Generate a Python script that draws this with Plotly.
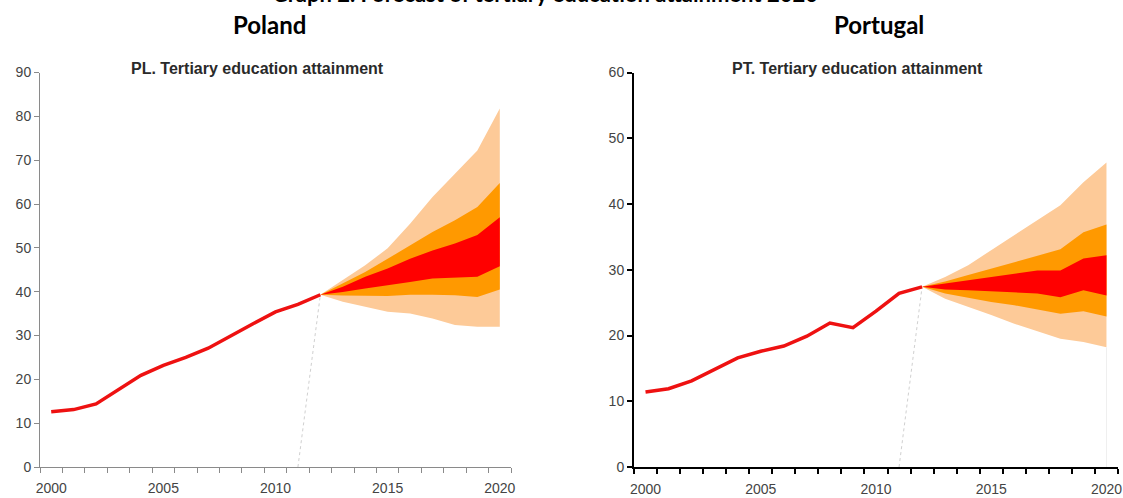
import plotly.graph_objects as go

# ---------------- data ----------------
hist_years = list(range(2000, 2013))
fc_years = list(range(2012, 2021))

pl_hist = [12.6, 13.1, 14.4, 17.7, 20.9, 23.2, 25.0, 27.1, 30.0, 32.7, 35.4, 37.1, 39.3]
pl_light_hi = [39.3, 42.6, 46.0, 49.9, 55.5, 61.6, 66.9, 72.2, 81.8]
pl_orange_hi = [39.3, 41.9, 44.5, 47.5, 50.6, 53.6, 56.3, 59.3, 64.8]
pl_red_hi = [39.3, 41.1, 43.4, 45.3, 47.5, 49.4, 51.0, 52.9, 57.0]
pl_red_lo = [39.3, 39.9, 40.7, 41.5, 42.2, 43.0, 43.2, 43.4, 45.8]
pl_orange_lo = [39.3, 39.1, 39.0, 39.0, 39.3, 39.3, 39.2, 38.8, 40.5]
pl_light_lo = [39.3, 37.7, 36.5, 35.4, 35.0, 33.9, 32.4, 32.0, 32.0]

pt_hist = [11.4, 11.9, 13.1, 14.9, 16.6, 17.6, 18.4, 19.9, 21.9, 21.2, 23.7, 26.4, 27.4]
pt_light_hi = [27.4, 28.9, 30.7, 33.0, 35.2, 37.5, 39.8, 43.3, 46.3]
pt_orange_hi = [27.4, 28.2, 29.2, 30.2, 31.2, 32.2, 33.1, 35.7, 36.9]
pt_red_hi = [27.4, 27.9, 28.5, 28.9, 29.4, 29.9, 29.9, 31.7, 32.2]
pt_red_lo = [27.4, 27.0, 26.9, 26.8, 26.6, 26.4, 25.8, 26.9, 26.1]
pt_orange_lo = [27.4, 26.4, 25.8, 25.1, 24.6, 24.0, 23.3, 23.7, 22.9]
pt_light_lo = [27.4, 25.6, 24.4, 23.1, 21.8, 20.6, 19.5, 19.0, 18.2]

x_ticks = [2000, 2005, 2010, 2015, 2020]
pl_y_ticks = [0, 10, 20, 30, 40, 50, 60, 70, 80, 90]
pt_y_ticks = [0, 10, 20, 30, 40, 50, 60]

main_title = "Graph 2. Forecast of tertiary education attainment 2020"
countries = ["Poland", "Portugal"]
panel_titles = ["PL. Tertiary education attainment", "PT. Tertiary education attainment"]

# ---------------- style ----------------
W, H = 1123, 498
LIGHT = "#FDCA98"
ORANGE = "#FF9900"
RED = "#FF0000"
LINE_RED = "#EE1111"

fig = go.Figure()


def add_panel(xa, ya, hist, bands, last_bottom_line):
    for hi, lo, col in bands:
        fig.add_trace(go.Scatter(
            x=fc_years + fc_years[::-1], y=hi + lo[::-1],
            fill="toself", fillcolor=col, mode="lines",
            line=dict(width=0, color=col), xaxis=xa, yaxis=ya,
            hoverinfo="skip", showlegend=False))
    # dotted guide from axis to last observation
    fig.add_trace(go.Scatter(
        x=[hist_years[-2], hist_years[-1]], y=[0, hist[-1]], mode="lines",
        line=dict(color="#D0D0D0", width=1, dash="dot"),
        xaxis=xa, yaxis=ya, hoverinfo="skip", showlegend=False))
    if last_bottom_line is not None:
        fig.add_trace(go.Scatter(
            x=[fc_years[-1], fc_years[-1]], y=[0, last_bottom_line], mode="lines",
            line=dict(color="#EFEFEF", width=1),
            xaxis=xa, yaxis=ya, hoverinfo="skip", showlegend=False))
    fig.add_trace(go.Scatter(
        x=hist_years, y=hist, mode="lines",
        line=dict(color=LINE_RED, width=3.5),
        xaxis=xa, yaxis=ya, showlegend=False))


add_panel("x", "y", pl_hist, [
    (pl_light_hi, pl_light_lo, LIGHT),
    (pl_orange_hi, pl_orange_lo, ORANGE),
    (pl_red_hi, pl_red_lo, RED)], None)
add_panel("x2", "y2", pt_hist, [
    (pt_light_hi, pt_light_lo, LIGHT),
    (pt_orange_hi, pt_orange_lo, ORANGE),
    (pt_red_hi, pt_red_lo, RED)], pt_light_lo[-1])

tickfont = dict(family="Liberation Sans, Arial, sans-serif", size=14, color="#444444")
y_dom = [(498 - 467) / H, (498 - 72.5) / H]


def xaxis(dom, col, lw):
    return dict(domain=dom, range=[1999.5, 2020.5], tickvals=x_ticks,
                ticktext=[str(t) for t in x_ticks],
                ticks="outside", ticklen=5, tickcolor="rgba(0,0,0,0)",
                showline=True, linecolor=col, linewidth=lw,
                showgrid=False, zeroline=False, tickfont=tickfont,
                ticklabelstandoff=3, automargin=False,
                minor=dict(tickmode="linear", tick0=1999.5, dtick=1,
                           ticks="outside", ticklen=5, tickcolor=col,
                           tickwidth=lw, showgrid=False),
                fixedrange=True)


def yaxis(dom, rng, tv, col, lw, anchor):
    return dict(domain=dom, range=rng, tickvals=tv, anchor=anchor,
                ticks="outside", ticklen=5, tickcolor=col, tickwidth=lw,
                showline=True, linecolor=col, linewidth=lw,
                showgrid=False, zeroline=False, tickfont=tickfont,
                automargin=False, fixedrange=True)


fig.update_layout(
    width=W, height=H,
    margin=dict(l=0, r=0, t=0, b=0, pad=0, autoexpand=False),
    paper_bgcolor="white", plot_bgcolor="white",
    xaxis=xaxis([40 / W, 511 / W], "#8A8A8A", 1) | dict(anchor="y"),
    yaxis=yaxis(y_dom, [0, 90], pl_y_ticks, "#8A8A8A", 1, "x"),
    xaxis2=xaxis([634 / W, 1118 / W], "#000000", 2) | dict(anchor="y2"),
    yaxis2=yaxis(y_dom, [0, 60], pt_y_ticks, "#000000", 2, "x2"),
    showlegend=False,
)

annos = [
    dict(text="<b>" + main_title + "</b>", x=545 / W, y=1 + 7 / H,
         font=dict(family="Lato, sans-serif", size=22, color="#000000")),
    dict(text="<b>" + countries[0] + "</b>", x=269 / W, y=(498 - 24) / H,
         font=dict(family="Lato, sans-serif", size=24, color="#000000")),
    dict(text="<b>" + countries[1] + "</b>", x=879 / W, y=(498 - 24) / H,
         font=dict(family="Lato, sans-serif", size=24, color="#000000")),
    dict(text="<b>" + panel_titles[0] + "</b>", x=257 / W, y=(498 - 68) / H,
         font=dict(family="Liberation Sans, Arial, sans-serif", size=16, color="#2A2A2A")),
    dict(text="<b>" + panel_titles[1] + "</b>", x=857 / W, y=(498 - 68) / H,
         font=dict(family="Liberation Sans, Arial, sans-serif", size=16, color="#2A2A2A")),
]
for a in annos:
    fig.add_annotation(xref="paper", yref="paper", showarrow=False,
                       xanchor="center", yanchor="middle", **a)

fig.write_html("out.html", config={"displayModeBar": False},
               post_script="document.body.style.margin='0';document.body.style.overflow='hidden';")
